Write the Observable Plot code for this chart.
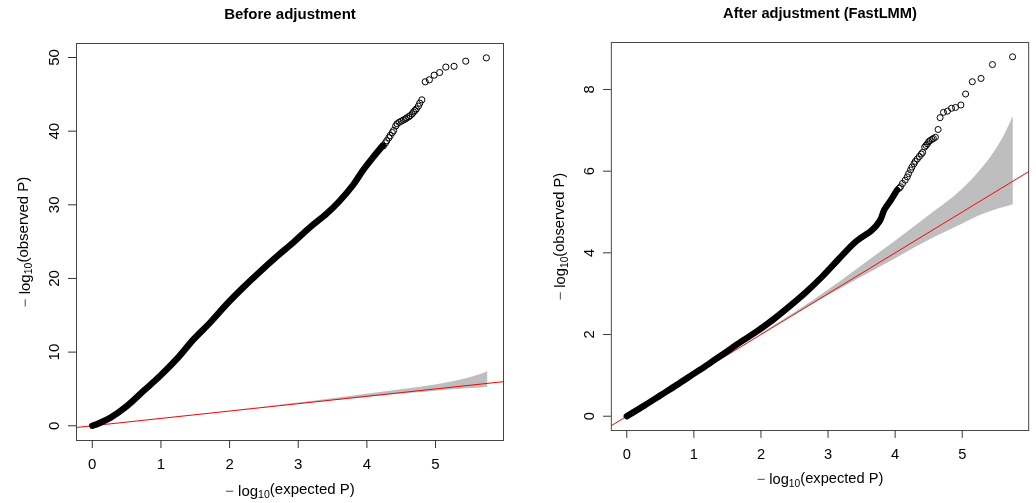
<!DOCTYPE html>
<html>
<head>
<meta charset="utf-8">
<script src="https://cdn.jsdelivr.net/npm/d3@7"></script>
<script src="https://cdn.jsdelivr.net/npm/@observablehq/plot@0.6"></script>
<style>
  html, body { margin: 0; padding: 0; background: #fff; overflow: hidden; }
  #wrap { position: relative; width: 1036px; height: 503px; overflow: hidden; background: #fff; }
  #left { position: absolute; left: 0; top: 0; }
  #right { position: absolute; left: 518px; top: 0; }
  svg text { -webkit-font-smoothing: antialiased; }
</style>
</head>
<body>
<div id="wrap"><div id="left"></div><div id="right"></div></div>
<script>
// ---------- data ----------
const titles = ["Before adjustment", "After adjustment (FastLMM)"];
const xLabel = "− log10(expected P)";
const yLabel = "− log10(observed P)";
const xTicks = [0, 1, 2, 3, 4, 5];
const yTicksBefore = [0, 10, 20, 30, 40, 50];
const yTicksAfter = [0, 2, 4, 6, 8];
const xDomain = [-0.23, 5.99];
const yDomainBefore = [-2.0, 51.9];
const yDomainAfter = [-0.35, 9.15];

// dense part of the observed curve (overlapping circles)
const beforeDenseExp = [0, 0.1, 0.27, 0.51, 0.75, 0.99, 1.23, 1.48, 1.72, 1.96, 2.20, 2.44, 2.69, 2.93, 3.17, 3.41, 3.60, 3.80, 3.94, 4.09, 4.23];
const beforeDenseObs = [0, 0.35, 1.13, 2.72, 4.76, 6.79, 9.06, 11.78, 14.04, 16.53, 18.79, 20.9, 23.0, 24.9, 26.94, 28.76, 30.5, 32.7, 34.65, 36.45, 38.04];
// sparse tail (individual circles)
const beforeTailExp = [4.24, 4.27, 4.29, 4.32, 4.34, 4.37, 4.39, 4.42, 4.44, 4.47, 4.50, 4.53, 4.56, 4.58, 4.61, 4.63, 4.66, 4.68, 4.70, 4.72, 4.75, 4.77, 4.80, 4.85, 4.91, 4.98, 5.06, 5.15, 5.27, 5.44, 5.74];
const beforeTailObs = [38.0, 38.4, 38.7, 39.1, 39.4, 39.8, 40.1, 40.7, 41.0, 41.2, 41.35, 41.5, 41.65, 41.8, 41.95, 42.1, 42.35, 42.6, 42.8, 43.0, 43.4, 43.8, 44.25, 46.7, 46.97, 47.6, 47.96, 48.7, 48.8, 49.5, 49.95];

const afterDenseExp = [0, 0.27, 0.51, 0.75, 0.99, 1.23, 1.47, 1.71, 1.96, 2.20, 2.44, 2.68, 2.92, 3.16, 3.41, 3.65, 3.77, 3.84, 3.94, 4.03];
const afterDenseObs = [0, 0.27, 0.52, 0.77, 1.03, 1.29, 1.56, 1.83, 2.10, 2.39, 2.71, 3.05, 3.43, 3.85, 4.27, 4.55, 4.78, 5.06, 5.30, 5.54];
const afterTailExp = [4.06, 4.08, 4.11, 4.15, 4.18, 4.20, 4.23, 4.25, 4.28, 4.30, 4.33, 4.36, 4.39, 4.41, 4.44, 4.46, 4.48, 4.50, 4.52, 4.55, 4.57, 4.60, 4.64, 4.67, 4.72, 4.78, 4.84, 4.90, 4.98, 5.05, 5.15, 5.28, 5.45, 5.75];
const afterTailObs = [5.58, 5.62, 5.70, 5.78, 5.86, 5.94, 6.03, 6.10, 6.18, 6.24, 6.30, 6.36, 6.42, 6.46, 6.59, 6.63, 6.67, 6.72, 6.75, 6.78, 6.80, 6.83, 7.02, 7.31, 7.44, 7.47, 7.54, 7.56, 7.62, 7.89, 8.19, 8.27, 8.61, 8.80];

// 95% confidence band (same for both panels)
const bandExp  = [2.0, 2.5, 3.0, 3.5, 4.0, 4.5, 5.0, 5.25, 5.46, 5.62, 5.76];
const bandLow  = [1.99, 2.48, 2.95, 3.40, 3.85, 4.30, 4.70, 4.90, 5.03, 5.11, 5.18];
const bandHigh = [2.02, 2.53, 3.08, 3.68, 4.28, 4.90, 5.55, 5.98, 6.42, 6.85, 7.34];

// ---------- build ----------
const FONT = "'Liberation Sans', Arial, Helvetica, sans-serif";
const zip = (xs, ys) => xs.map((x, i) => ({x, y: ys[i]}));
const band = bandExp.map((x, i) => ({x, lo: bandLow[i], hi: bandHigh[i]}));
const abline = xDomain.map(x => ({x, y: x}));

function panel({title, dense, tail, yDomain, yTicks, width, marginLeft, marginRight}) {
  const svg = Plot.plot({
    width, height: 503,
    marginLeft, marginRight, marginTop: 43, marginBottom: 63,
    x: {domain: xDomain},
    y: {domain: yDomain},
    style: {fontFamily: FONT, fontSize: "15px", background: "white", color: "black", willChange: "transform"},
    marks: [
      Plot.areaY(band, {x: "x", y1: "lo", y2: "hi", fill: "#BEBEBE", curve: "monotone-x"}),
      Plot.line(abline, {x: "x", y: "y", stroke: "#FF0000", strokeWidth: 1}),
      Plot.line(dense, {x: "x", y: "y", stroke: "black", strokeWidth: 6.5, strokeLinecap: "round", strokeLinejoin: "round", curve: "catmull-rom"}),
      Plot.dot(tail, {x: "x", y: "y", r: 3.1, stroke: "black", strokeWidth: 1, fill: "none"}),
      Plot.frame({stroke: "#444", strokeWidth: 1}),
      Plot.axisX(xTicks, {tickSize: 8, tickPadding: 10, label: null, stroke: "#333", fontSize: 15, fill: "black"}),
      Plot.axisY(yTicks, {tickSize: 8, tickFormat: () => "", label: null, stroke: "#333"}),
      Plot.text(yTicks, {y: d => d, frameAnchor: "left", dx: -17.5, rotate: -90, textAnchor: "middle", lineAnchor: "bottom", text: d => String(d), fontSize: 15, fill: "black"}),
      Plot.text([title], {frameAnchor: "top", dy: -25, lineAnchor: "bottom", fontWeight: "bold", fontSize: 15, fill: "black"}),
      Plot.text([xLabel], {frameAnchor: "bottom", dy: 55, lineAnchor: "bottom", fontSize: 15, fill: "black"}),
      Plot.text([yLabel], {frameAnchor: "left", dx: -47, rotate: -90, textAnchor: "middle", lineAnchor: "bottom", fontSize: 15, fill: "black"})
    ]
  });
  // subscripts for log10
  d3.select(svg).selectAll("text").each(function() {
    const t = this.textContent;
    if (t.includes("log10")) {
      const [pre, post] = t.split("log10");
      const sel = d3.select(this);
      sel.text(null);
      sel.append("tspan").attr("fill", "#555").text(pre.trim());
      sel.append("tspan").text(" log");
      sel.append("tspan").attr("font-size", "10.5px").attr("dy", "0.28em").text("10");
      sel.append("tspan").attr("dy", "-0.28em").text(post);
    }
  });
  return svg;
}

document.getElementById("left").appendChild(panel({
  title: titles[0],
  dense: zip(beforeDenseExp, beforeDenseObs),
  tail: zip(beforeTailExp, beforeTailObs),
  yDomain: yDomainBefore, yTicks: yTicksBefore,
  width: 518, marginLeft: 76, marginRight: 15
}));
document.getElementById("right").appendChild(panel({
  title: titles[1],
  dense: zip(afterDenseExp, afterDenseObs),
  tail: zip(afterTailExp, afterTailObs),
  yDomain: yDomainAfter, yTicks: yTicksAfter,
  width: 530, marginLeft: 95, marginRight: 8
}));
</script>
</body>
</html>
